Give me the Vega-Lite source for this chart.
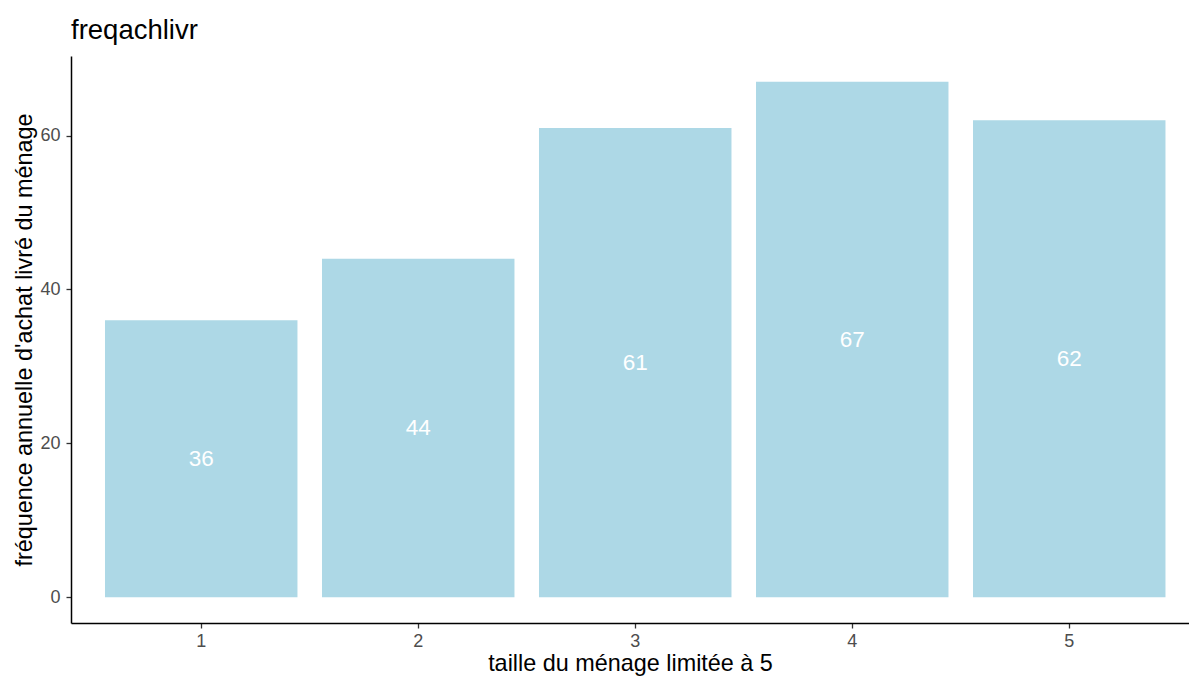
{
  "$schema": "https://vega.github.io/schema/vega-lite/v6.json",
  "width": 1118,
  "height": 567,
  "autosize": {"type": "none"},
  "padding": {"left": 71, "top": 56, "right": 0, "bottom": 54},
  "background": "white",
  "title": {
    "text": "freqachlivr",
    "anchor": "start",
    "frame": "group",
    "font": "Liberation Sans",
    "fontSize": 27.5,
    "fontWeight": "normal",
    "color": "black",
    "offset": 12
  },
  "data": {
    "values": [
      {"taille": "1", "freq": 36},
      {"taille": "2", "freq": 44},
      {"taille": "3", "freq": 61},
      {"taille": "4", "freq": 67},
      {"taille": "5", "freq": 62}
    ]
  },
  "config": {
    "view": {"stroke": null},
    "axis": {
      "grid": false,
      "domainColor": "black",
      "domainWidth": 1.5,
      "tickColor": "#333333",
      "tickWidth": 1.3,
      "tickSize": 5,
      "labelColor": "#4D4D4D",
      "labelFont": "Liberation Sans",
      "labelFontSize": 18,
      "titleFont": "Liberation Sans",
      "titleFontSize": 23.4,
      "titleFontWeight": "normal",
      "titleColor": "black"
    }
  },
  "layer": [
    {
      "mark": {"type": "bar", "color": "#ADD8E6"},
      "encoding": {
        "x": {
          "field": "taille",
          "type": "ordinal",
          "sort": ["1", "2", "3", "4", "5"],
          "scale": {"paddingInner": 0.113, "paddingOuter": 0.1325, "align": 0.591},
          "axis": {"labelAngle": 0, "labelPadding": 4, "titlePadding": 2, "title": "taille du ménage limitée à 5"}
        },
        "y": {
          "field": "freq",
          "type": "quantitative",
          "scale": {"domain": [-3.35, 70.35], "nice": false, "zero": false},
          "axis": {"values": [0, 20, 40, 60], "labelPadding": 6, "titlePadding": 3, "title": "fréquence annuelle d'achat livré du ménage"}
        },
        "y2": {"datum": 0}
      }
    },
    {
      "mark": {"type": "text", "color": "white", "fontSize": 22.5, "font": "Liberation Sans", "baseline": "middle"},
      "encoding": {
        "x": {"field": "taille", "type": "ordinal", "sort": ["1", "2", "3", "4", "5"]},
        "y": {
          "field": "freq",
          "type": "quantitative",
          "scale": {"domain": [-6.7, 140.7], "nice": false, "zero": false},
          "axis": null
        },
        "text": {"field": "freq", "type": "quantitative"}
      }
    }
  ],
  "resolve": {"scale": {"y": "independent"}}
}
